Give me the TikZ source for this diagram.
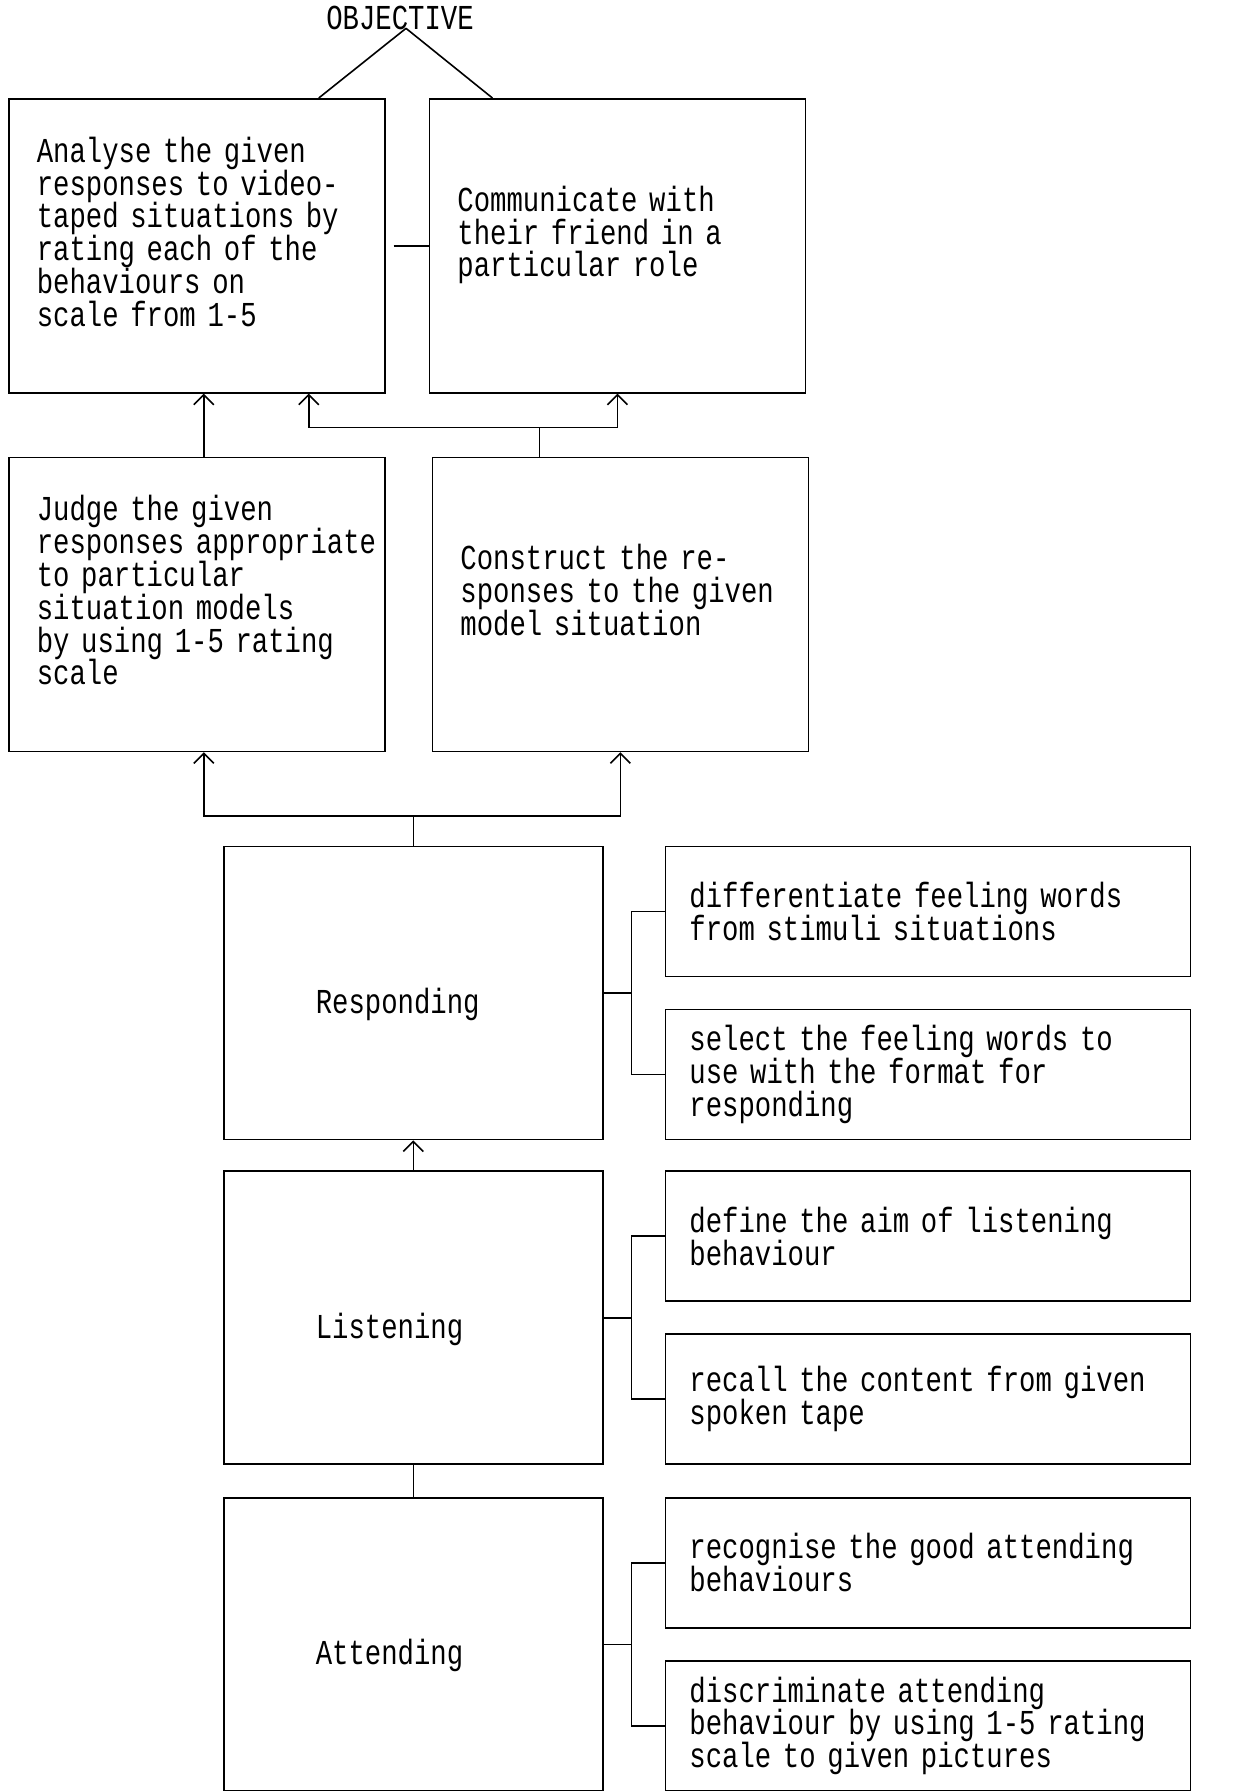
\documentclass[tikz,border=0pt]{standalone}
\usepackage{fontspec}
\setmonofont[FakeStretch=0.78]{Liberation Mono}
\usetikzlibrary{positioning,arrows.meta}

\begin{document}
\begin{tikzpicture}[>={Straight Barb[length=5pt,width=10pt]},line width=0.8pt,
      node distance=15pt,
      every node/.style={font=\ttfamily\fontsize{17.5pt}{16.4pt}\selectfont},
      big box/.style={rectangle,draw,align=left,text width=160pt,
      inner xsep=14pt,minimum height=147pt,text height=12pt,text depth=#1},
      level box/.style={rectangle,draw,align=left,text width=97.5pt,
      inner xsep=46pt,minimum height=146.5pt,text height=24pt},
      sub box/.style={rectangle,draw,align=left,text width=238.5pt,
      inner xsep=12pt,minimum height=65pt}]

  \useasboundingbox (0,0) rectangle (616.5pt,-895.5pt);

  %% THE OBJECTIVE AND THE TWO TOP ROWS
  \node (objective) at (200pt,-9pt) {OBJECTIVE};
  \node[big box=95.5pt,anchor=north west] (analyse) at (4pt,-49pt)
    {Analyse the given\\responses to video-\\taped situations by\\rating each of the\\behaviours on\\scale from 1-5};
  \node[big box=46.5pt] (communicate) [right=21.5pt of analyse]
    {Communicate with\\their friend in a\\particular role};
  \node[big box=95.5pt] (judge) [below=31.5pt of analyse]
    {Judge the given\\responses~appropriate\\to particular\\situation models\\by using 1-5 rating\\scale};
  \node[big box=46.5pt] (construct) [right=23pt of judge]
    {Construct the re-\\sponses~to~the~given\\model situation};

  %% THE THREE LEVELS
  \node[level box] (responding) [below right=46.8pt and 107.5pt of judge.south west] {Responding};
  \node[level box] (listening) [below=of responding] {Listening};
  \node[level box] (attending) [below=16pt of listening] {Attending};

  %% WHAT EACH LEVEL IS MADE OF
  \node[sub box] (differentiate) [below right=0pt and 30.5pt of responding.north east]
    {differentiate feeling words\\from stimuli situations};
  \node[sub box] (select) [above right=0pt and 30.5pt of responding.south east]
    {select the feeling words to\\use with the format for\\responding};
  \node[sub box] (define) [below right=0pt and 30.5pt of listening.north east]
    {define the aim of listening\\behaviour};
  \node[sub box] (recall) [above right=0pt and 30.5pt of listening.south east]
    {recall the content from given\\spoken tape};
  \node[sub box] (recognise) [below right=0pt and 30.5pt of attending.north east]
    {recognise the good attending\\behaviours};
  \node[sub box] (discriminate) [above right=0pt and 30.5pt of attending.south east]
    {discriminate attending\\behaviour by using 1-5 rating\\scale to given pictures};

  %% CONNECTORS
  \draw ([xshift=3pt,yshift=4.5pt]objective.south) -- ([xshift=61pt]analyse.north);
  \draw ([xshift=3pt,yshift=4.5pt]objective.south) -- ([xshift=-62.5pt]communicate.north);
  \draw ([xshift=4pt]analyse.east) -- (communicate.west);
  \draw[->] ([xshift=3.5pt]judge.north) -- ([xshift=3.5pt]analyse.south);
  \draw ([xshift=-40.5pt]construct.north) -- ++(0,14.5pt) coordinate (upper join);
  \draw[->] (upper join) -| ([xshift=56pt]analyse.south);
  \draw[->] (upper join) -| (communicate.south);
  \draw (responding.north) -- ++(0,15pt) coordinate (lower join);
  \draw[->] (lower join) -| ([xshift=3.5pt]judge.south);
  \draw[->] (lower join) -| (construct.south);
  \draw[->] (listening.north) -- (responding.south);
  \draw (attending.north) -- (listening.south);

  %% BRACKETS FROM EACH LEVEL TO ITS PARTS
  \foreach \lvl/\a/\b in {responding/differentiate/select,
      listening/define/recall,attending/recognise/discriminate}{
    \draw (\lvl.east) -- ++(14pt,0) coordinate (\lvl join);
    \draw (\a.west) -| (\lvl join) |- (\b.west);
  }
\end{tikzpicture}
\end{document}
